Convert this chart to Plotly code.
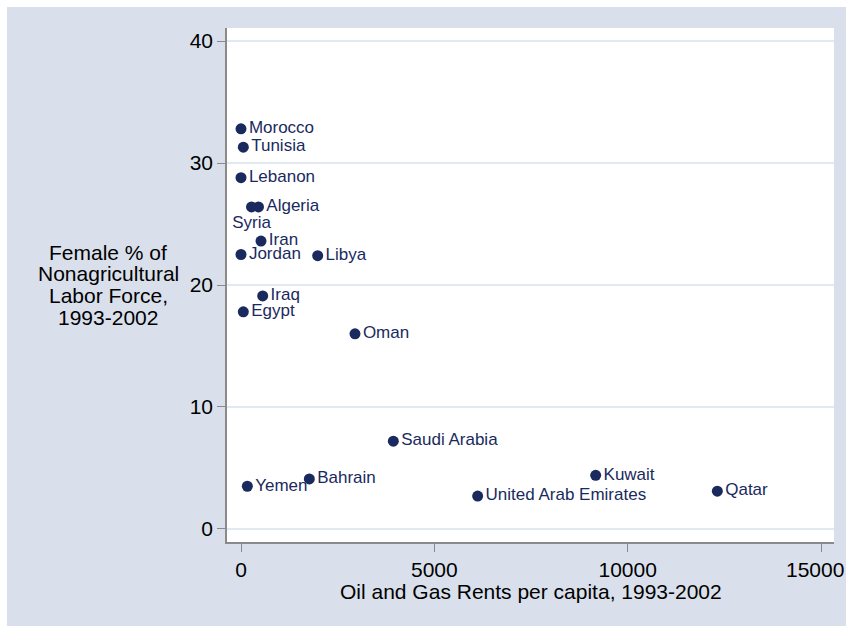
import plotly.graph_objects as go

countries = ["Morocco", "Tunisia", "Lebanon", "Syria", "Algeria", "Iran", "Jordan",
             "Libya", "Iraq", "Egypt", "Oman", "Saudi Arabia", "Yemen", "Bahrain",
             "United Arab Emirates", "Kuwait", "Qatar"]
oil_rents = [0, 60, 0, 272, 452, 517, 0, 1983, 561, 60, 2948, 3939, 164, 1767, 6120, 9172, 12318]
female_pct = [32.8, 31.3, 28.8, 26.4, 26.4, 23.6, 22.5, 22.4, 19.1, 17.8, 16.0, 7.2, 3.5, 4.1, 2.7, 4.4, 3.1]
label_pos = ["middle right"] * len(countries)
label_pos[countries.index("Syria")] = "bottom center"

x_ticks = [0, 5000, 10000, 15000]
x_tick_labels = ["0", "5000", "10000", "15000"]
y_ticks = [0, 10, 20, 30, 40]
y_tick_labels = ["0", "10", "20", "30", "40"]
x_title = "Oil and Gas Rents per capita, 1993-2002"
y_title_lines = ["Female % of", "Nonagricultural", "Labor Force,", "1993-2002"]

FONT = "Liberation Sans, Arial, Helvetica, sans-serif"
NAVY = "#1a2a5e"
BG = "#d9e0ec"
W, H = 846, 626
L, R, T, B = 227, 12, 28, 84
PW, PH = W - L - R, H - T - B

fig = go.Figure()
fig.add_trace(go.Scatter(
    x=oil_rents, y=female_pct, mode="markers+text",
    text=countries, textposition=label_pos,
    textfont=dict(family=FONT, size=17, color=NAVY),
    marker=dict(size=11, color=NAVY),
    cliponaxis=False, hoverinfo="text"))

def px_x(p):
    return (p - L) / PW

def px_y(p):
    return (H - B - p) / PH

annotations = [dict(text=x_title, xref="paper", yref="paper", x=0.5, y=px_y(591),
                    xanchor="center", yanchor="middle", showarrow=False,
                    font=dict(family=FONT, size=21, color="black"))]
for i, line in enumerate(y_title_lines):
    annotations.append(dict(text=line, xref="paper", yref="paper", x=px_x(108),
                            y=px_y(252 + i * 21.7), xanchor="center", yanchor="middle",
                            showarrow=False, font=dict(family=FONT, size=21, color="black")))
# last x tick label kept inside the page so the browser does not rescale the figure
annotations.append(dict(text=x_tick_labels[-1], xref="paper", yref="paper", x=px_x(846),
                        y=px_y(569), xanchor="right", yanchor="middle", showarrow=False,
                        font=dict(family=FONT, size=21, color="black")))

shapes = [
    dict(type="rect", xref="paper", yref="paper", x0=px_x(0), x1=px_x(7), y0=px_y(H), y1=px_y(0),
         fillcolor="white", line=dict(width=0)),
    dict(type="rect", xref="paper", yref="paper", x0=px_x(0), x1=px_x(W), y0=px_y(7), y1=px_y(0),
         fillcolor="white", line=dict(width=0)),
]

fig.update_layout(
    width=W, height=H, autosize=False, margin=dict(l=L, r=R, t=T, b=B, pad=0),
    paper_bgcolor=BG, plot_bgcolor="white", showlegend=False,
    font=dict(family=FONT, size=21, color="black"),
    annotations=annotations, shapes=shapes,
    xaxis=dict(range=[-362, 15335], tickvals=x_ticks, ticktext=x_tick_labels[:-1] + [""],
               showgrid=False, zeroline=False, showline=True, linecolor="#8a8a8a", linewidth=1.5,
               ticks="outside", ticklen=8, tickcolor="#8a8a8a", tickwidth=1.2,
               tickfont=dict(family=FONT, size=21, color="black")),
    yaxis=dict(range=[-1.07, 41.07], tickvals=y_ticks, ticktext=y_tick_labels,
               showgrid=True, gridcolor="#e3e9f2", gridwidth=1.5, zeroline=False,
               showline=True, linecolor="#8a8a8a", linewidth=1.5,
               ticks="outside", ticklen=8, tickcolor="#8a8a8a", tickwidth=1.2,
               tickfont=dict(family=FONT, size=21, color="black")),
)

fig.write_html("out.html")
